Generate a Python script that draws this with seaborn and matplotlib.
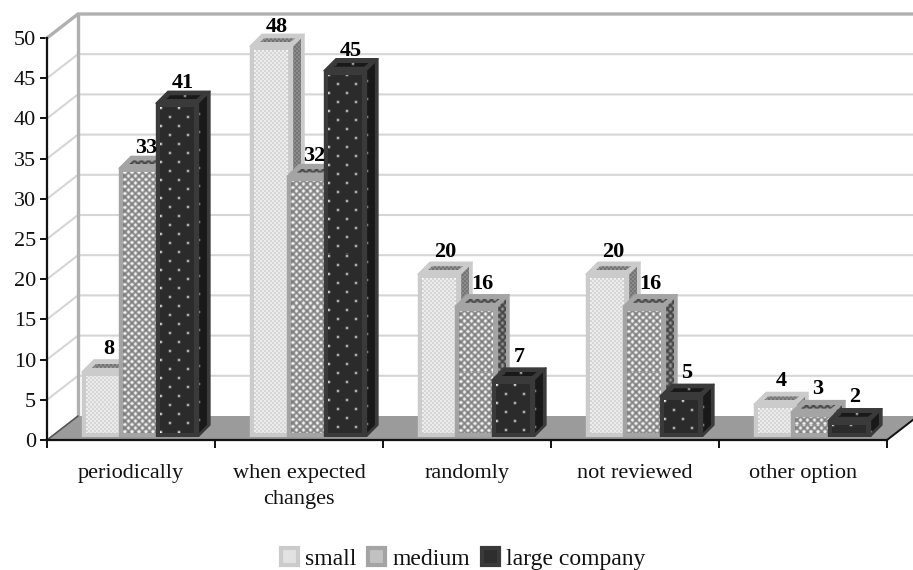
import numpy as np
import pandas as pd
import seaborn as sns
import matplotlib
matplotlib.use("Agg")
import matplotlib.pyplot as plt
from matplotlib.patches import Polygon, Patch

categories = ["periodically", "when expected\nchanges", "randomly", "not reviewed", "other option"]
sizes = ["small", "medium", "large company"]
small_values = [8, 48, 20, 20, 4]
medium_values = [33, 32, 16, 16, 3]
large_values = [41, 45, 7, 5, 2]
y_ticks = list(range(0, 55, 5))

W, H = 913, 570
sns.set_theme(style="white")
plt.rcParams["font.family"] = ["Liberation Serif", "DejaVu Serif"]

df = pd.DataFrame({
    "category": categories * 3,
    "size": [s for s in sizes for _ in categories],
    "share": small_values + medium_values + large_values,
})

fig = plt.figure(figsize=(W / 100, H / 100), dpi=100)


def pixel_axes(left, base, width, height):
    return fig.add_axes([left / W, (H - base) / H, width / W, height / H])


# Chart frame: walls, floor and axes, with the value axis on the front plane
ax = pixel_axes(47, 440, 840, 402)
ax.set_xlim(0, 5)
ax.set_ylim(0, 50)
ax.patch.set_alpha(0)
unit_x = 840 / 5
unit_y = 402 / 50
wall_dx = 31 / unit_x
wall_dy = 24 / unit_y

ax.add_patch(Polygon([(0, 0), (wall_dx, wall_dy), (5 + wall_dx, wall_dy), (5, 0)],
                     closed=True, fc="#9b9b9b", ec="none", clip_on=False, zorder=1))
for v in y_ticks[1:-1]:
    ax.plot([0, wall_dx, 5 + wall_dx], [v, v + wall_dy, v + wall_dy],
            color="#d6d6d6", lw=1.5, clip_on=False, zorder=0.5)
ax.plot([0, wall_dx, 5 + wall_dx], [50, 50 + wall_dy, 50 + wall_dy],
        color="#b0b0b0", lw=2.4, clip_on=False, zorder=0.6, solid_joinstyle="miter")
ax.plot([wall_dx, wall_dx], [wall_dy, 50 + wall_dy],
        color="#b0b0b0", lw=2.4, clip_on=False, zorder=0.6)
ax.plot([0, wall_dx], [0, wall_dy], color="#555555", lw=1.2, clip_on=False, zorder=1.5)
ax.plot([5, 5 + wall_dx], [0, wall_dy], color="#111111", lw=1.4, clip_on=False, zorder=1.5)

for side in ("top", "right"):
    ax.spines[side].set_visible(False)
for side in ("left", "bottom"):
    ax.spines[side].set_color("#111111")
    ax.spines[side].set_linewidth(1.6)
    ax.spines[side].set_zorder(2)

ax.set_yticks(y_ticks)
ax.set_xticks(range(6))
ax.set_xticklabels([])
ax.set_xticks(np.arange(5) + 0.5, labels=categories, minor=True)
ax.tick_params(axis="y", which="major", left=True, length=5, width=1.4, color="#111111",
               labelsize=16, pad=3, labelcolor="#111111")
ax.tick_params(axis="x", which="major", bottom=True, length=6, width=1.4, color="#111111")
ax.tick_params(axis="x", which="minor", bottom=False, length=0, labelsize=16, pad=17,
               labelcolor="#111111")
for lab in ax.get_xticklabels(minor=True):
    lab.set_linespacing(1.5)

# Bars sit a little inside the floor, on their own plane
bx = pixel_axes(56, 437, 840, 407)
bx.patch.set_alpha(0)
frame_colors = {"small": "#cbcbcb", "medium": "#a4a4a4", "large company": "#3a3a3a"}
sns.barplot(data=df, x="category", y="share", hue="size", hue_order=sizes, order=categories,
            palette=frame_colors, saturation=1, width=0.66, gap=-0.136, legend=False,
            linewidth=0, ax=bx)
bx.set_xlim(-0.5, 4.5)
bx.set_ylim(0, 50)
bx.axis("off")
px = 1 / 168
py = 50 / 407
depth_x = 12 * px
depth_y = 12 * py


def soften(img):
    # Light 3x3 smoothing so fine patterns do not look razor sharp
    padded = np.pad(img, 1, mode="edge")
    kernel = np.array([[1, 2, 1], [2, 6, 2], [1, 2, 1]], dtype=float)
    kernel /= kernel.sum()
    return sum(kernel[j, i] * padded[j:j + img.shape[0], i:i + img.shape[1]]
               for j in range(3) for i in range(3))


def texture(kind, w, h, dark=False):
    w, h = max(int(round(w)), 1), max(int(round(h)), 1)
    yy, xx = np.mgrid[0:h, 0:w]
    if kind == "small":
        hi, lo = (0.62, 0.38) if dark else (1.0, 0.76)
        img = np.where((xx // 2 + yy // 2) % 2 == 0, hi, lo)
    elif kind == "medium":
        hi, lo = (0.62, 0.26) if dark else (1.0, 0.50)
        img = np.where(((xx + yy) % 7 < 4) & ((xx - yy) % 7 < 4), hi, lo)
    else:
        base = 0.10 if dark else 0.17
        img = np.full((h, w), base)
        row = yy // 9
        cell_x = (xx + row * 9) % 18
        cell_y = yy % 9
        img[(cell_x < 2) & (cell_y < 2)] = 0.8 if dark else 1.0
    return soften(img)


def textured(axis, verts, kind, z, dark=False):
    verts = np.asarray(verts)
    x0, y0 = verts.min(axis=0)
    x1, y1 = verts.max(axis=0)
    img = texture(kind, (x1 - x0) / px, (y1 - y0) / py, dark)
    im = axis.imshow(img, cmap="gray", vmin=0, vmax=1, extent=(x0, x1, y0, y1),
                     aspect="auto", interpolation="nearest", zorder=z)
    clip = Polygon(verts, closed=True, transform=axis.transData)
    im.set_clip_path(clip)


bars = list(bx.patches)
level_of = [s for s in sizes for _ in categories]
for bar, level in zip(bars, level_of):
    z = 3 + sizes.index(level)
    frame = frame_colors[level]
    x0, w = bar.get_x(), bar.get_width()
    h = bar.get_height()
    x1 = x0 + w
    bar.set_zorder(z + 0.5)
    bar.set_edgecolor(frame)
    bar.set_linewidth(1.0)
    bar.set_joinstyle("round")

    # Side face
    bx.add_patch(Polygon([(x1, 0), (x1 + depth_x, depth_y), (x1 + depth_x, h + depth_y), (x1, h)],
                         closed=True, fc=frame, ec=frame, lw=1.0, joinstyle="round", zorder=z))
    if h * 8.14 > 5:
        inner_x = x1 + depth_x - 3 * px
        slope = depth_y / depth_x
        textured(bx, [(x1, 3 * py), (inner_x, 3 * py + (inner_x - x1) * slope),
                      (inner_x, h + (inner_x - x1) * slope - 1 * py), (x1, h - 1 * py)],
                 level, z + 0.1, dark=True)

    # Top face with its darker inset
    bx.add_patch(Polygon([(x0, h), (x0 + depth_x, h + depth_y), (x1 + depth_x, h + depth_y), (x1, h)],
                         closed=True, fc=frame, ec=frame, lw=1.0, joinstyle="round", zorder=z + 0.2))
    textured(bx, [(x0 + 10 * px, h + 4 * py), (x0 + 14 * px, h + 8 * py),
                  (x1 + 3 * px, h + 8 * py), (x1 - 2 * px, h + 4 * py)],
             level, z + 0.3, dark=True)

    # Front face pattern inside the frame
    inset_x, inset_y = 4 * px, 4 * py
    if h * 8.14 > 2 * 4 + 1:
        fx0, fx1, fy0, fy1 = x0 + inset_x, x1 - inset_x, inset_y, h - inset_y
        textured(bx, [(fx0, fy0), (fx1, fy0), (fx1, fy1), (fx0, fy1)], level, z + 0.6)

    # Value label follows the value scale of the main axes, above the bar
    bx.annotate(f"{int(h)}", (x0 + w / 2 + depth_x / 2, h),
                xycoords=(bx.transData, ax.transData), xytext=(0, 27),
                textcoords="offset pixels", ha="center", va="center", fontsize=16,
                fontweight="bold", color="black", zorder=12, annotation_clip=False)

bx.set_xlim(-0.5, 4.5)
bx.set_ylim(0, 50)

# Legend along the bottom edge
legend_faces = {"small": "#e2e2e2", "medium": "#c2c2c2", "large company": "#2e2e2e"}
handles = [Patch(facecolor=legend_faces[s], edgecolor=frame_colors[s], linewidth=3,
                 joinstyle="round", label=s) for s in sizes]
fig.legend(handles=handles, loc="center", bbox_to_anchor=(463 / W, (H - 559) / H), ncol=3,
           frameon=False, fontsize=17, handlelength=0.72, handleheight=0.72,
           handletextpad=0.3, columnspacing=0.5, borderpad=0, labelcolor="#111111")

fig.savefig("out.png", dpi=100, facecolor="white")
